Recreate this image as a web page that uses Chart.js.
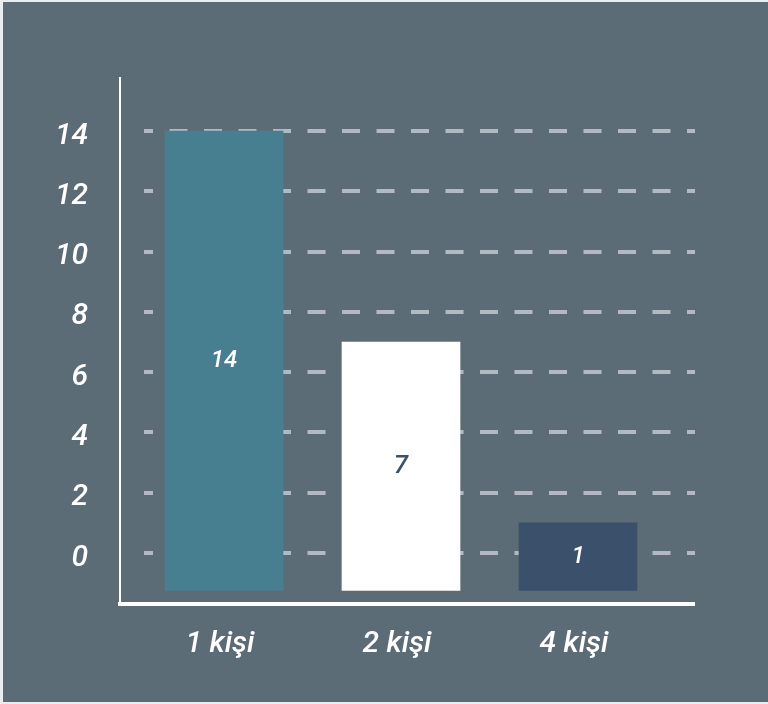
<!DOCTYPE html>
<html>
<head>
<meta charset="utf-8">
<script src="https://cdn.jsdelivr.net/npm/chart.js@4/dist/chart.umd.min.js"></script>
<style>
  html, body { margin: 0; padding: 0; background: #e9edf0; }
  #wrap { position: absolute; left: 3px; top: 2px; width: 765px; height: 700px; background: #5c6c77; }
  canvas { display: block; }
</style>
</head>
<body>
<div id="wrap"><canvas id="c" width="765" height="700"></canvas></div>
<script>
// ---- data ----
const categories = ['1 kişi', '2 kişi', '4 kişi'];
const values = [14, 7, 1];
const yTicks = [0, 2, 4, 6, 8, 10, 12, 14];
const barColors = ['#477f90', '#ffffff', '#3a506b'];
const labelColors = ['#ffffff', '#3a506b', '#ffffff'];
const labelSizes = [24, 26, 24];

// grid dash pattern: blank lead, partial dash, then regular 18/16.5 rhythm
const gridDash = [0, 23, 9, 16.5];
for (let i = 0; i < 16; i++) gridDash.push(18, 16.5);

const barLabels = {
  id: 'barLabels',
  afterDatasetsDraw(chart) {
    const ctx = chart.ctx;
    const meta = chart.getDatasetMeta(0);
    ctx.save();
    ctx.textAlign = 'center';
    ctx.textBaseline = 'middle';
    meta.data.forEach((el, i) => {
      const p = el.getProps(['x', 'y', 'base'], true);
      ctx.font = 'italic 500 ' + labelSizes[i] + 'px Roboto';
      ctx.fillStyle = labelColors[i];
      ctx.fillText(String(values[i]), p.x, (p.y + p.base) / 2);
    });
    ctx.restore();
  }
};

new Chart(document.getElementById('c'), {
  type: 'bar',
  data: {
    datasets: [{
      data: categories.map((c, i) => ({ x: i, y: values[i] })),
      backgroundColor: barColors,
      borderWidth: 0,
      barThickness: 118,
      base: -1.24
    }]
  },
  options: {
    responsive: false,
    animation: false,
    layout: { padding: { left: 0, top: 76, right: 73, bottom: 28 } },
    plugins: { legend: { display: false }, tooltip: { enabled: false } },
    scales: {
      x: {
        type: 'linear',
        position: 'bottom',
        offset: false,
        min: -0.5876,
        max: 2.661,
        afterBuildTicks: s => { s.ticks = categories.map((c, i) => ({ value: i })); },
        afterFit: s => { s.height = 70; },
        grid: { display: false, offset: false, drawTicks: false, lineWidth: 0 },
        border: { display: true, color: '#ffffff', width: 4 },
        ticks: {
          color: '#ffffff',
          padding: 22,
          labelOffset: -4,
          font: { family: 'Roboto', size: 30, style: 'italic', weight: 500 },
          callback: v => categories[v]
        }
      },
      y: {
        type: 'linear',
        min: -1.69,
        max: 15.76,
        afterBuildTicks: s => { s.ticks = yTicks.map(v => ({ value: v })); },
        afterFit: s => { s.width = 117; },
        grid: { color: '#b3b9c3', lineWidth: 4, drawTicks: false },
        border: { display: true, color: '#ffffff', width: 2, dash: gridDash },
        ticks: {
          color: '#ffffff',
          padding: 32,
          labelOffset: 5,
          font: { family: 'Roboto', size: 30, style: 'italic', weight: 500 }
        }
      }
    }
  },
  plugins: [barLabels]
});
</script>
</body>
</html>
